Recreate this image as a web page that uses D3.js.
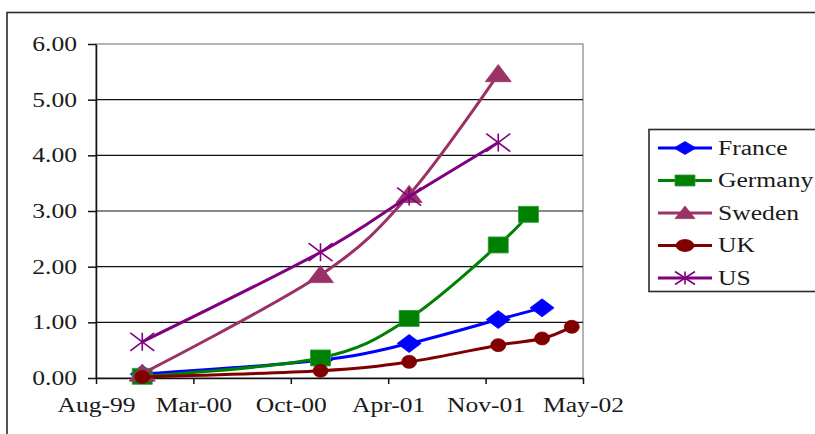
<!DOCTYPE html>
<html>
<head>
<meta charset="utf-8">
<script src="https://cdn.jsdelivr.net/npm/d3@7"></script>
<style>
  body { margin: 0; background: #fff; }
  svg { display: block; }
</style>
</head>
<body>
<svg id="chart" width="815" height="434"></svg>
<script>
// Series: dates of each observation and the values measured on them
const seriesNames = ["France", "Germany", "Sweden", "UK", "US"];

const franceDates  = ["1999-12-01", "2000-12-01", "2001-06-01", "2001-12-01", "2002-03-01"];
const franceValues = [0.07, 0.32, 0.62, 1.05, 1.26];

const germanyDates  = ["1999-12-01", "2000-12-01", "2001-06-01", "2001-12-01", "2002-02-01"];
const germanyValues = [0.03, 0.36, 1.07, 2.39, 2.94];

const swedenDates  = ["1999-12-01", "2000-12-01", "2001-06-01", "2001-12-01"];
const swedenValues = [0.08, 1.85, 3.29, 5.46];

const ukDates  = ["1999-12-01", "2000-12-01", "2001-06-01", "2001-12-01", "2002-03-01", "2002-05-01"];
const ukValues = [0.02, 0.13, 0.29, 0.59, 0.71, 0.92];

const usDates  = ["1999-12-01", "2000-12-01", "2001-06-01", "2001-12-01"];
const usValues = [0.65, 2.26, 3.26, 4.23];

// Axis ticks: dates 200 days apart, and their labels
const xTickDates  = ["1999-08-28", "2000-03-15", "2000-10-01", "2001-04-19", "2001-11-05", "2002-05-24"];
const xTickLabels = ["Aug-99", "Mar-00", "Oct-00", "Apr-01", "Nov-01", "May-02"];
const yTicks = [0, 1, 2, 3, 4, 5, 6];

// ---------------------------------------------------------------
const parse = d3.utcParse("%Y-%m-%d");
const SX = 1.28;            // horizontal widening of glyphs and markers
const FONT = "'Liberation Serif', 'Times New Roman', serif";

const styles = {
  France:  { color: "#0000ff", marker: "diamond",  w: 12, h: 9,   lw: 11, lh: 6.5 },
  Germany: { color: "#008000", marker: "square",   w: 10, h: 8,   lw: 10, lh: 5.5 },
  Sweden:  { color: "#993366", marker: "triangle", w: 13, h: 9.5, lw: 10, lh: 7 },
  UK:      { color: "#800000", marker: "circle",   w: 7.5, h: 6.5, lw: 9, lh: 6 },
  US:      { color: "#800080", marker: "star",     w: 12, h: 9,   lw: 10, lh: 6.5 }
};

const series = [
  { name: "France",  dates: franceDates,  values: franceValues },
  { name: "Germany", dates: germanyDates, values: germanyValues },
  { name: "Sweden",  dates: swedenDates,  values: swedenValues },
  { name: "UK",      dates: ukDates,      values: ukValues },
  { name: "US",      dates: usDates,      values: usValues }
].map(s => ({ name: s.name, points: s.dates.map((d, i) => ({ date: parse(d), value: s.values[i] })) }));

const svg = d3.select("#chart");
const margin = { left: 96, top: 44, right: 232, bottom: 56 };
const W = 815, H = 434;
const plotW = W - margin.left - margin.right;
const plotH = H - margin.top - margin.bottom;

const x = d3.scaleUtc()
  .domain([parse(xTickDates[0]), parse(xTickDates[xTickDates.length - 1])])
  .range([0, plotW]);
const y = d3.scaleLinear().domain([0, 6]).range([plotH, 0]);

// Outer chart frame (runs past the right and bottom edges)
svg.append("rect")
  .attr("x", 7).attr("y", 12.5)
  .attr("width", 840).attr("height", 460)
  .attr("fill", "#fff").attr("stroke", "#2a2a2a").attr("stroke-width", 1.6);

const g = svg.append("g").attr("transform", `translate(${margin.left},${margin.top})`);

// Plot-area frame
g.append("rect")
  .attr("x", 0).attr("y", 0).attr("width", plotW).attr("height", plotH)
  .attr("fill", "#fff").attr("stroke", "#8c8c8c").attr("stroke-width", 1.3);

// Horizontal gridlines
g.append("g")
  .selectAll("line")
  .data(yTicks.filter(v => v > 0 && v < 6))
  .join("line")
  .attr("x1", 0).attr("x2", plotW)
  .attr("y1", d => y(d)).attr("y2", d => y(d))
  .attr("stroke", "#111").attr("stroke-width", 1.2);

// Y axis
const yAxis = g.append("g")
  .call(d3.axisLeft(y).tickValues(yTicks).tickFormat(d3.format(".2f")).tickSize(8).tickSizeOuter(0).tickPadding(11));
// X axis
const xAxis = g.append("g")
  .attr("transform", `translate(0,${plotH})`)
  .call(d3.axisBottom(x)
    .tickValues(xTickDates.map(parse))
    .tickFormat((d, i) => xTickLabels[i])
    .tickSize(6).tickSizeOuter(0).tickPadding(14));

[yAxis, xAxis].forEach(a => {
  a.select(".domain").attr("stroke", "#111").attr("stroke-width", 1.5);
  a.selectAll(".tick line").attr("stroke", "#111").attr("stroke-width", 1.5);
  a.selectAll("text")
    .attr("fill", "#1a1a1a")
    .style("font-family", FONT)
    .style("font-size", "20px");
});
yAxis.selectAll("text").attr("x", -19 / SX).attr("transform", `scale(${SX},1)`);
xAxis.selectAll("text").attr("transform", `scale(${SX},1)`);

// Marker shapes, half-width w and half-height h
function markerPath(type, w, h) {
  switch (type) {
    case "diamond":  return `M0,${-h}L${w},0L0,${h}L${-w},0Z`;
    case "square":   return `M${-w},${-h}H${w}V${h}H${-w}Z`;
    case "triangle": return `M0,${-h}L${w},${h * 0.8}L${-w},${h * 0.8}Z`;
    case "circle":   return `M${-w},0A${w},${h} 0 1,0 ${w},0A${w},${h} 0 1,0 ${-w},0Z`;
    case "star":     return `M${-w},${-h}L${w},${h}M${-w},${h}L${w},${-h}M0,${-h}V${h}`;
  }
}
function drawMarker(sel, st, w, h) {
  const isStar = st.marker === "star";
  sel.attr("d", markerPath(st.marker, w, h))
    .attr("fill", isStar ? "none" : st.color)
    .attr("stroke", st.marker === "square" ? "#2f9a3a" : st.color)
    .attr("stroke-width", isStar ? 1.6 : 0.8);
}

// Smoothed series lines
const line = d3.line()
  .x(d => x(d.date))
  .y(d => y(d.value))
  .curve(d3.curveCardinal.tension(0));

const seriesG = g.append("g")
  .selectAll("g")
  .data(series)
  .join("g");

seriesG.append("path")
  .attr("d", d => line(d.points))
  .attr("fill", "none")
  .attr("stroke", d => styles[d.name].color)
  .attr("stroke-width", 3)
  .attr("stroke-linejoin", "round");

seriesG.each(function (s) {
  const st = styles[s.name];
  d3.select(this).selectAll("path.mk")
    .data(s.points)
    .join("path")
    .attr("class", "mk")
    .attr("transform", d => `translate(${x(d.date)},${y(d.value)})`)
    .call(drawMarker, st, st.w, st.h);
});

// Legend
const legend = svg.append("g").attr("transform", "translate(649,129.5)");
legend.append("rect")
  .attr("x", 0).attr("y", 0).attr("width", 200).attr("height", 162)
  .attr("fill", "#fff").attr("stroke", "#2a2a2a").attr("stroke-width", 1.6);

const items = legend.selectAll("g.item")
  .data(seriesNames)
  .join("g")
  .attr("class", "item")
  .attr("transform", (d, i) => `translate(0,${18.5 + i * 32.5})`);

items.append("line")
  .attr("x1", 9).attr("x2", 63).attr("y1", 0).attr("y2", 0)
  .attr("stroke", d => styles[d].color).attr("stroke-width", 3);

items.append("path")
  .attr("transform", "translate(36,0)")
  .each(function (d) { d3.select(this).call(drawMarker, styles[d], styles[d].lw, styles[d].lh); });

items.append("text")
  .attr("transform", `translate(69,0) scale(${SX},1)`)
  .attr("dy", "0.33em")
  .attr("fill", "#1a1a1a")
  .style("font-family", FONT)
  .style("font-size", "20px")
  .text(d => d);
</script>
</body>
</html>
